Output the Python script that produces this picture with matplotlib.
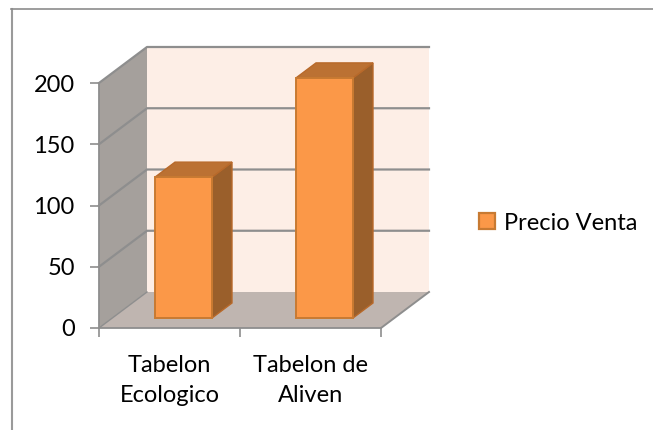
import matplotlib
matplotlib.use('Agg')
import matplotlib.pyplot as plt
from matplotlib.lines import Line2D
from matplotlib.patches import Polygon, Rectangle

categories = ['Tabelon\nEcologico', 'Tabelon de\nAliven']
valores = [115, 196]
serie = 'Precio Venta'
yticks = [0, 50, 100, 150, 200]

plt.rcParams['font.family'] = ['Lato', 'DejaVu Sans']

W, H = 653, 430
fig = plt.figure(figsize=(W/100, H/100), dpi=100)
fig.patch.set_facecolor('white')

# marco exterior: solo arriba y a la izquierda
fig.add_artist(Line2D([11.5/W, 11.5/W], [0, 1-8.5/H], color='#9a9a9a', lw=1.5))
fig.add_artist(Line2D([11/W, 1], [1-8.5/H, 1-8.5/H], color='#8c8c8c', lw=1.2))

# plano frontal del grafico, en pixeles: x 99-381, y 328-83
ax = fig.add_axes([99/W, (H-328)/H, 282/W, 245/H])
ax.set_xlim(0, 2)
ax.set_ylim(0, 200)
ax.patch.set_visible(False)

# profundidad en unidades de datos
dx = 48/141
dy = 36/(245/200)
gris = '#8e8e8e'

# pared del fondo, pared lateral y suelo
ax.add_patch(Polygon([(dx, dy), (2+dx, dy), (2+dx, 200+dy), (dx, 200+dy)],
                     fc='#fdeee6', ec='none', clip_on=False, zorder=1))
ax.add_patch(Polygon([(0, 0), (dx, dy), (dx, 200+dy), (0, 200)],
                     fc='#a5a09c', ec='none', clip_on=False, zorder=1))
ax.add_patch(Polygon([(0, 0), (2, 0), (2+dx, dy), (dx, dy)],
                     fc='#bfb5b0', ec='none', clip_on=False, zorder=1))

for v in yticks:
    if v > 0:
        ax.plot([0, dx, 2+dx], [v, v+dy, v+dy], color=gris, lw=1.6, clip_on=False, zorder=2)
ax.plot([2, 2+dx], [0, dy], color=gris, lw=1.4, clip_on=False, zorder=2)
ax.plot([0, dx], [0, dy], color=gris, lw=1.0, clip_on=False, zorder=2)

# barras 3D
ancho = 57/141
margen = 56/141
off_y = 10/(245/200)
side_x = 20/141
side_y = 15/(245/200)
borde = '#b8692a'
for i, v in enumerate(valores):
    x0 = i + margen
    x1 = x0 + ancho
    y0 = off_y
    y1 = off_y + v
    ax.add_patch(Polygon([(x1, y0), (x1+side_x, y0+side_y), (x1+side_x, y1+side_y), (x1, y1)],
                         fc='#9a5f2b', ec=borde, lw=1, clip_on=False, zorder=3))
    ax.add_patch(Polygon([(x0, y1), (x1, y1), (x1+side_x, y1+side_y), (x0+side_x, y1+side_y)],
                         fc='#bb7133', ec=borde, lw=1, clip_on=False, zorder=3))
    ax.add_patch(Rectangle((x0, y0), ancho, v, fc='#fb9848', ec='#c87a32', lw=1.4,
                           clip_on=False, zorder=4))

# ejes
for s in ['top', 'right']:
    ax.spines[s].set_visible(False)
for s in ['left', 'bottom']:
    ax.spines[s].set_color(gris)
    ax.spines[s].set_linewidth(1.3)
    ax.spines[s].set_zorder(5)
ax.set_yticks(yticks)
ax.set_xticks([0, 1, 2])
ax.set_xticklabels([])
ax.set_xticks([0.5, 1.5], minor=True)
ax.set_xticklabels(categories, minor=True, fontsize=17, color='black', linespacing=1.55)
ax.tick_params(axis='x', which='minor', length=0, pad=19.5)
ax.tick_params(axis='both', which='major', length=6.5, width=1.2, color=gris)
ax.tick_params(axis='y', labelsize=17, pad=11)

# leyenda
h = Rectangle((0, 0), 1, 1, fc='#fb9848', ec='#c87a32', lw=1.6)
fig.legend([h], [serie], loc='center left', bbox_to_anchor=(479/W, 1-223/H), frameon=False,
           fontsize=17, handlelength=0.68, handleheight=0.68, handletextpad=0.38,
           borderpad=0, borderaxespad=0)

fig.savefig('out.png', dpi=100)
